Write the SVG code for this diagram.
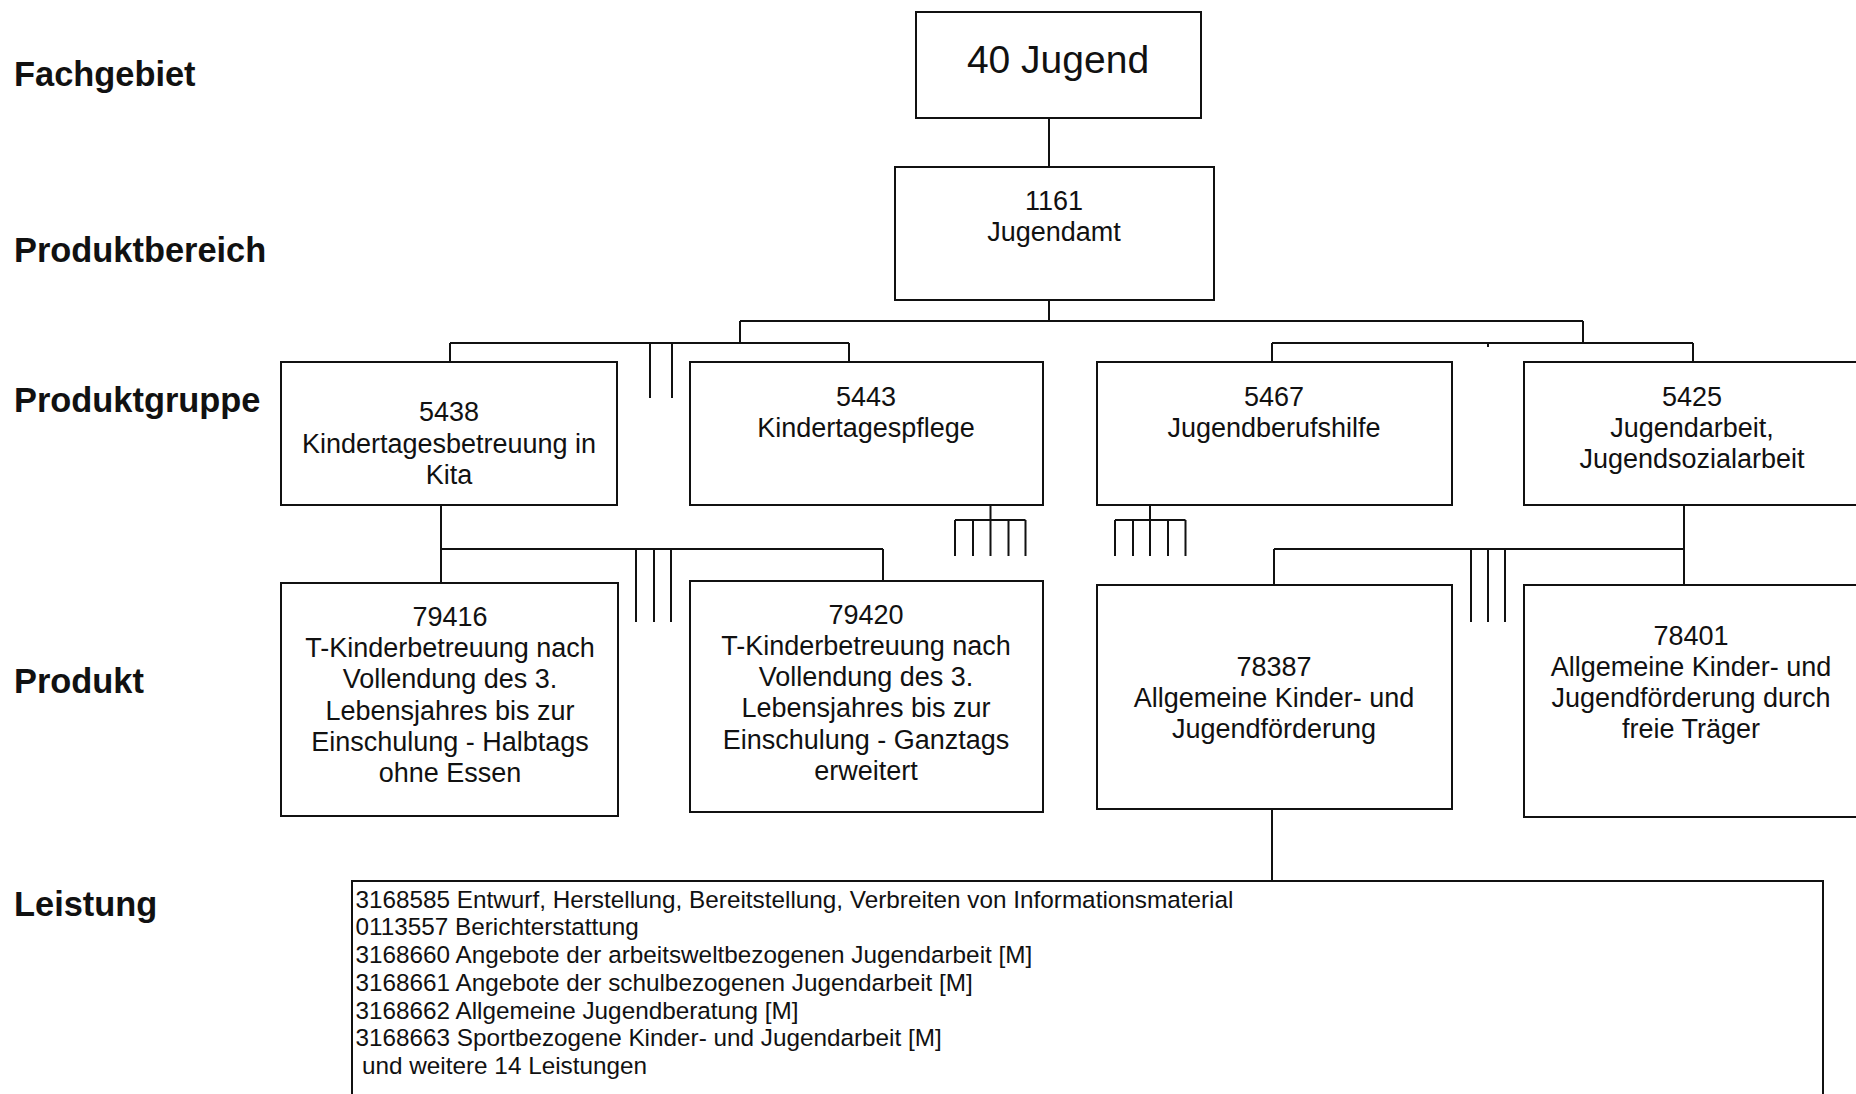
<svg xmlns="http://www.w3.org/2000/svg" width="1856" height="1094" viewBox="0 0 1856 1094">
<style>
.bg{fill:#fff}
.box{fill:#fff;stroke:#111;stroke-width:2}
.ln{fill:none;stroke:#111;stroke-width:2}
.t{font-family:"Liberation Sans",Arial,sans-serif;font-size:27px;fill:#111;text-anchor:middle}
.big{font-size:39px}
.lab{font-family:"Liberation Sans",Arial,sans-serif;font-size:34.4px;font-weight:bold;fill:#111}
.ls{font-family:"Liberation Sans",Arial,sans-serif;font-size:24.3px;fill:#111}
</style>
<rect class="bg" x="0" y="0" width="1856" height="1094"/>

<g id="level-labels">
<text class="lab" x="14" y="86">Fachgebiet</text>
<text class="lab" x="14" y="261.5">Produktbereich</text>
<text class="lab" x="14" y="411.5">Produktgruppe</text>
<text class="lab" x="14" y="693">Produkt</text>
<text class="lab" x="14" y="916">Leistung</text>
</g>

<g id="connectors">
<path class="ln" d="M1049 118V167M1049 300V321M740 321H1583M740 321V343M1583 321V343"/>
<path class="ln" d="M450 343H849M450 343V362M849 343V362M650 343V398M672 343V398"/>
<path class="ln" d="M1272 343H1693M1272 343V362M1693 343V362M1488 343V347"/>
<path class="ln" d="M441 505V549M441 549H883M441 549V583M883 549V581M636 549V622M654 549V622M671 549V622"/>
<path class="ln" d="M990.5 505V556M955 520H1025.5M955 520V556M973 520V556M1008.5 520V556M1025.5 520V556"/>
<path class="ln" d="M1150 505V556M1115 520H1185.5M1115 520V556M1133 520V556M1168 520V556M1185.5 520V556"/>
<path class="ln" d="M1684 505V549M1274 549H1684M1274 549V585M1684 549V585M1471 549V622M1488 549V622M1505 549V622"/>
<path class="ln" d="M1272 809V881"/>
</g>

<g id="n40">
<rect class="box" x="916" y="12" width="285" height="106"/>
<text class="t big" x="1058" y="73">40 Jugend</text>
</g>

<g id="n1161">
<rect class="box" x="895" y="167" width="319" height="133"/>
<text class="t" x="1054" y="210">1161</text>
<text class="t" x="1054" y="241">Jugendamt</text>
</g>

<g id="n5438">
<rect class="box" x="281" y="362" width="336" height="143"/>
<text class="t" x="449" y="421">5438</text>
<text class="t" x="449" y="453">Kindertagesbetreuung in</text>
<text class="t" x="449" y="484">Kita</text>
</g>

<g id="n5443">
<rect class="box" x="690" y="362" width="353" height="143"/>
<text class="t" x="866" y="406">5443</text>
<text class="t" x="866" y="437">Kindertagespflege</text>
</g>

<g id="n5467">
<rect class="box" x="1097" y="362" width="355" height="143"/>
<text class="t" x="1274" y="406">5467</text>
<text class="t" x="1274" y="437">Jugendberufshilfe</text>
</g>

<g id="n5425">
<rect class="box" x="1524" y="362" width="400" height="143"/>
<text class="t" x="1692" y="406">5425</text>
<text class="t" x="1692" y="437">Jugendarbeit,</text>
<text class="t" x="1692" y="468">Jugendsozialarbeit</text>
</g>

<g id="n79416">
<rect class="box" x="281" y="583" width="337" height="233"/>
<text class="t" x="450" y="626">79416</text>
<text class="t" x="450" y="657">T-Kinderbetreuung nach</text>
<text class="t" x="450" y="688">Vollendung des 3.</text>
<text class="t" x="450" y="719.5">Lebensjahres bis zur</text>
<text class="t" x="450" y="751">Einschulung - Halbtags</text>
<text class="t" x="450" y="782">ohne Essen</text>
</g>

<g id="n79420">
<rect class="box" x="690" y="581" width="353" height="231"/>
<text class="t" x="866" y="624">79420</text>
<text class="t" x="866" y="655">T-Kinderbetreuung nach</text>
<text class="t" x="866" y="686">Vollendung des 3.</text>
<text class="t" x="866" y="717">Lebensjahres bis zur</text>
<text class="t" x="866" y="749">Einschulung - Ganztags</text>
<text class="t" x="866" y="780">erweitert</text>
</g>

<g id="n78387">
<rect class="box" x="1097" y="585" width="355" height="224"/>
<text class="t" x="1274" y="676">78387</text>
<text class="t" x="1274" y="707">Allgemeine Kinder- und</text>
<text class="t" x="1274" y="738">Jugendförderung</text>
</g>

<g id="n78401">
<rect class="box" x="1524" y="585" width="400" height="232"/>
<text class="t" x="1691" y="645">78401</text>
<text class="t" x="1691" y="676">Allgemeine Kinder- und</text>
<text class="t" x="1691" y="707">Jugendförderung durch</text>
<text class="t" x="1691" y="738">freie Träger</text>
</g>

<g id="leistungen">
<rect class="box" x="352" y="881" width="1471" height="300"/>
<text class="ls" x="355.5" y="907.5">3168585 Entwurf, Herstellung, Bereitstellung, Verbreiten von Informationsmaterial</text>
<text class="ls" x="355.5" y="935">0113557 Berichterstattung</text>
<text class="ls" x="355.5" y="963">3168660 Angebote der arbeitsweltbezogenen Jugendarbeit [M]</text>
<text class="ls" x="355.5" y="991">3168661 Angebote der schulbezogenen Jugendarbeit [M]</text>
<text class="ls" x="355.5" y="1019">3168662 Allgemeine Jugendberatung [M]</text>
<text class="ls" x="355.5" y="1046">3168663 Sportbezogene Kinder- und Jugendarbeit [M]</text>
<text class="ls" x="362" y="1074">und weitere 14 Leistungen</text>
</g>
</svg>
